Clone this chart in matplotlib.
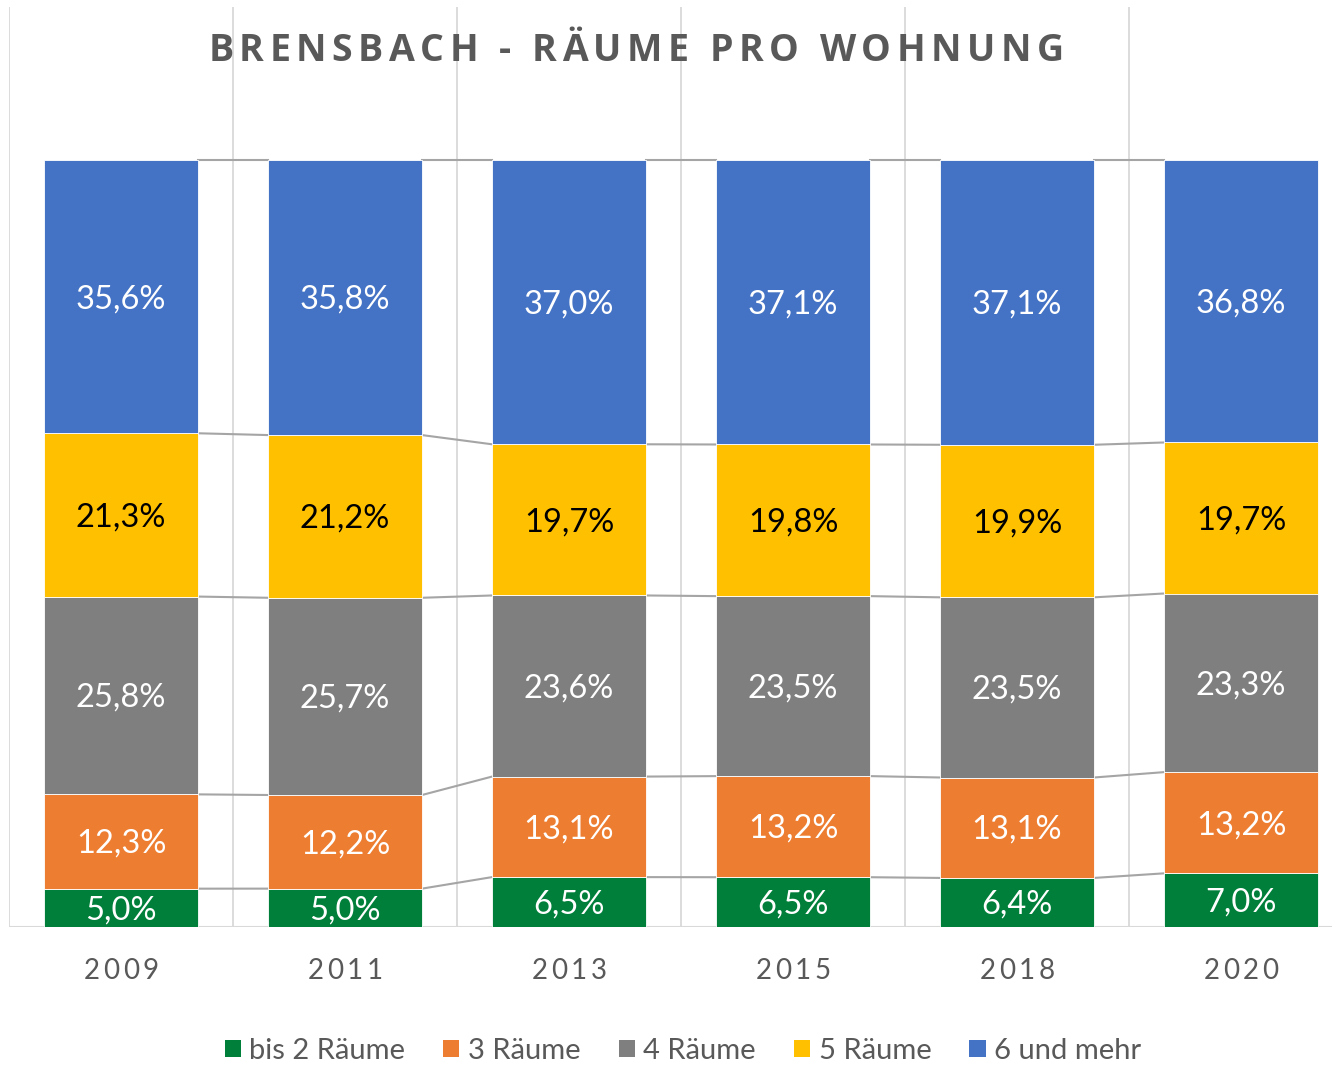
import numpy as np
import matplotlib
matplotlib.use('Agg')
import matplotlib.pyplot as plt
from matplotlib.patches import Patch
from matplotlib.font_manager import FontProperties

years = ['2009', '2011', '2013', '2015', '2018', '2020']
series = ['bis 2 Räume', '3 Räume', '4 Räume', '5 Räume', '6 und mehr']
bis2 = [5.0, 5.0, 6.5, 6.5, 6.4, 7.0]
r3 = [12.3, 12.2, 13.1, 13.2, 13.1, 13.2]
r4 = [25.8, 25.7, 23.6, 23.5, 23.5, 23.3]
r5 = [21.3, 21.2, 19.7, 19.8, 19.9, 19.7]
r6 = [35.6, 35.8, 37.0, 37.1, 37.1, 36.8]
title = 'BRENSBACH - RÄUME PRO WOHNUNG'

colors = ['#007F3A', '#ED7D31', '#7F7F7F', '#FFC000', '#4472C4']
label_colors = ['white', 'white', 'white', 'black', 'white']
TEXT_GREY = '#595959'
GRID = '#D9D9D9'
LABEL_FONT = ['Lato', 'DejaVu Sans']
TITLE_FONT = ['Open Sans', 'DejaVu Sans']

W, H = 1332, 1065
fig = plt.figure(figsize=(W / 100, H / 100), dpi=100)
ax = fig.add_axes([9 / W, 1 - 927 / H, 1344 / W, 920 / H])
renderer = fig.canvas.get_renderer()


def tracked_text(x_px, y_px, s, prop, tracking, **kw):
    """Draw s centred at figure pixel x, with extra letter spacing (px)."""
    def w(t):
        return renderer.get_text_width_height_descent(t, prop, ismath=False)[0]
    base = w('HH')
    adv = [w('H' + c + 'H') - base for c in s]
    total = sum(adv) + tracking * (len(s) - 1)
    cur = x_px - total / 2
    for c, a in zip(s, adv):
        fig.text(cur / W, y_px / H, c, fontproperties=prop, ha='left',
                 va='baseline', **kw)
        cur += a + tracking


x = np.arange(len(years))
width = 0.6875
values = np.array([bis2, r3, r4, r5, r6])
shares = values / values.sum(axis=0) * 100  # 100 % stacked
bottom = np.zeros(len(years))
for vals, share, col, lcol, name in zip(values, shares, colors, label_colors, series):
    ax.bar(x, share, width, bottom=bottom, color=col, edgecolor='white',
           linewidth=0.6, label=name, zorder=3)
    for xi, b, v, sh in zip(x, bottom, vals, share):
        ax.text(xi, b + sh / 2 - 0.3, f'{v:.1f}%'.replace('.', ','), ha='center',
                va='center', color=lcol, fontsize=23.5, family=LABEL_FONT, zorder=4)
    top = bottom + share
    # series lines between neighbouring bars
    for i in range(len(years) - 1):
        ax.plot([x[i] + width / 2, x[i + 1] - width / 2], [top[i], top[i + 1]],
                color='#A5A5A5', lw=1.5, zorder=2)
    bottom = top

ax.set_xlim(-0.5, len(years) - 0.5)
ax.set_ylim(0, 120)
for gx in np.arange(-0.5, len(years), 1.0):
    ax.axvline(gx, color=GRID, lw=1.3, zorder=1)
ax.axhline(0, color=GRID, lw=1.5, zorder=1)
for s in ax.spines.values():
    s.set_visible(False)
ax.set_yticks([])
ax.set_xticks([])

# year labels with letter spacing
tick_prop = FontProperties(family=LABEL_FONT, size=20)
for xi, yr in zip(x, years):
    px = ax.transData.transform((xi, 0))[0]
    tracked_text(px, H - 979, yr, tick_prop, 3.5, color=TEXT_GREY)

title_prop = FontProperties(family=TITLE_FONT, size=27, weight='bold')
tracked_text(636, H - 61, title, title_prop, 5.5, color=TEXT_GREY)

handles = [Patch(facecolor=c, label=n) for c, n in zip(colors, series)]
fig.legend(handles=handles, loc='center', bbox_to_anchor=(683 / W, 1 - 1051 / H),
           ncol=5, frameon=False, handlelength=0.55, handleheight=0.55,
           handletextpad=0.3, columnspacing=1.3,
           prop={'family': LABEL_FONT, 'size': 21}, labelcolor=TEXT_GREY)

fig.savefig('out.png', dpi=100, facecolor='white')
